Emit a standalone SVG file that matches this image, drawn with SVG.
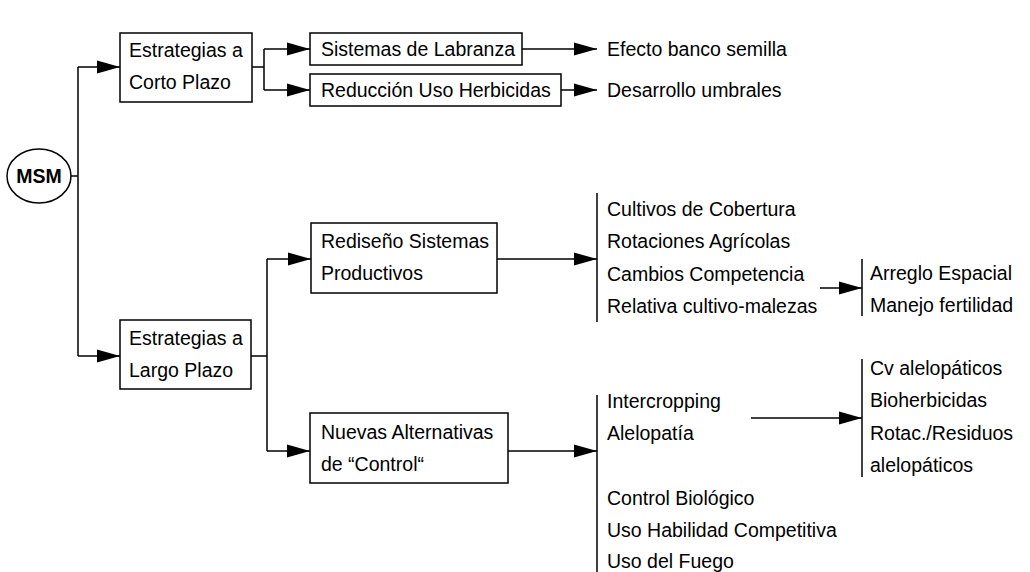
<svg xmlns="http://www.w3.org/2000/svg" width="1030" height="572" viewBox="0 0 1030 572">
<style>
.t{font-family:"Liberation Sans",Arial,sans-serif;font-size:19.5px;fill:#000}
.b{fill:#fff;stroke:#000;stroke-width:1.5}
.c{fill:none;stroke:#000;stroke-width:1.5}
.a{marker-end:url(#ah)}
</style>
<defs>
<marker id="ah" markerUnits="userSpaceOnUse" markerWidth="24" markerHeight="14" refX="23" refY="6.5" orient="auto" overflow="visible">
<path d="M0,0 L23,6.5 L0,13 Z" fill="#000"/>
</marker>
</defs>
<rect width="1030" height="572" fill="#fff"/>
<g id="connectors">
<path class="c" d="M71,176 H78 M78,67 V356"/>
<path class="c a" d="M78,67 H120"/>
<path class="c a" d="M78,356 H120"/>
<path class="c" d="M252,67 H264 M264,49 V90"/>
<path class="c a" d="M264,49 H310"/>
<path class="c a" d="M264,90 H310"/>
<path class="c a" d="M522,49 H597"/>
<path class="c a" d="M561,90 H597"/>
<path class="c" d="M251,356 H267 M267,259 V451"/>
<path class="c a" d="M267,259 H311"/>
<path class="c a" d="M267,451 H310"/>
<path class="c a" d="M497,259 H597"/>
<path class="c" d="M597,193 V322"/>
<path class="c a" d="M508,451 H597"/>
<path class="c" d="M597,395 V572"/>
<path class="c a" d="M820,288 H862"/>
<path class="c" d="M862,259 V316"/>
<path class="c a" d="M751,418 H862"/>
<path class="c" d="M862,359 V477"/>
</g>
<g id="msm">
<ellipse class="b" cx="39" cy="176" rx="32" ry="27"/>
<text class="t" x="39" y="183" text-anchor="middle" font-weight="bold" font-size="20">MSM</text>
</g>
<g id="corto">
<rect class="b" x="120" y="33" width="132" height="69"/>
<text class="t" x="129" y="57">Estrategias a</text>
<text class="t" x="129" y="89">Corto Plazo</text>
</g>
<g id="labranza">
<rect class="b" x="310" y="33" width="212" height="32"/>
<text class="t" x="321" y="56">Sistemas de Labranza</text>
</g>
<g id="reduccion">
<rect class="b" x="310" y="74" width="251" height="32"/>
<text class="t" x="321" y="97">Reducción Uso Herbicidas</text>
</g>
<g id="efecto"><text class="t" x="607" y="56">Efecto banco semilla</text></g>
<g id="umbrales"><text class="t" x="607" y="97">Desarrollo umbrales</text></g>
<g id="largo">
<rect class="b" x="120" y="320" width="131" height="69"/>
<text class="t" x="129" y="345">Estrategias a</text>
<text class="t" x="129" y="377">Largo Plazo</text>
</g>
<g id="rediseno">
<rect class="b" x="311" y="223" width="186" height="70"/>
<text class="t" x="321" y="248">Rediseño Sistemas</text>
<text class="t" x="321" y="280">Productivos</text>
</g>
<g id="lista1">
<text class="t" x="607" y="216">Cultivos de Cobertura</text>
<text class="t" x="607" y="248">Rotaciones Agrícolas</text>
<text class="t" x="607" y="281">Cambios Competencia</text>
<text class="t" x="607" y="313">Relativa cultivo-malezas</text>
</g>
<g id="lista2">
<text class="t" x="870" y="280">Arreglo Espacial</text>
<text class="t" x="870" y="312">Manejo fertilidad</text>
</g>
<g id="nuevas">
<rect class="b" x="310" y="413" width="198" height="70"/>
<text class="t" x="321" y="439">Nuevas Alternativas</text>
<text class="t" x="321" y="471">de “Control“</text>
</g>
<g id="lista3">
<text class="t" x="607" y="408">Intercropping</text>
<text class="t" x="607" y="440">Alelopatía</text>
<text class="t" x="607" y="505">Control Biológico</text>
<text class="t" x="607" y="537">Uso Habilidad Competitiva</text>
<text class="t" x="607" y="568">Uso del Fuego</text>
</g>
<g id="lista4">
<text class="t" x="870" y="375">Cv alelopáticos</text>
<text class="t" x="870" y="407">Bioherbicidas</text>
<text class="t" x="870" y="440">Rotac./Residuos</text>
<text class="t" x="870" y="472">alelopáticos</text>
</g>
</svg>
